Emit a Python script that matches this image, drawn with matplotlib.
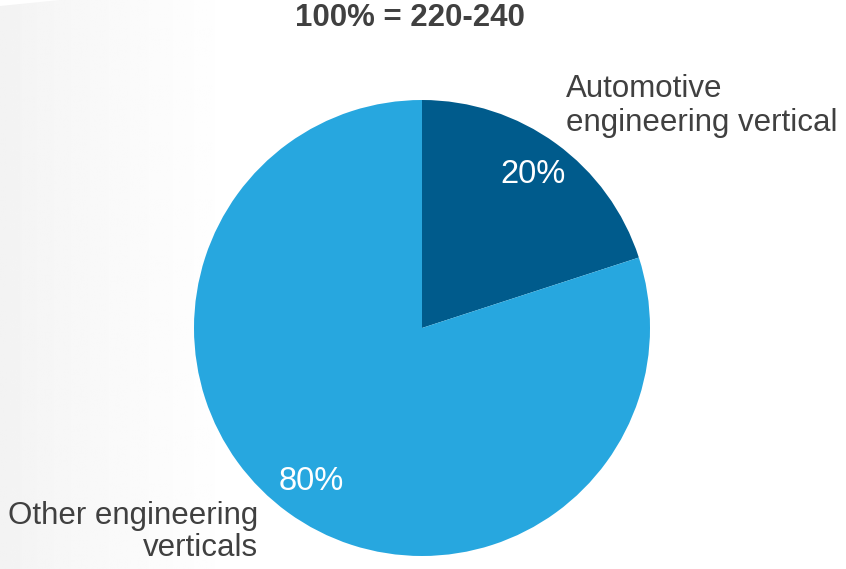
import matplotlib
matplotlib.use("Agg")
import matplotlib.pyplot as plt
import numpy as np

plt.rcParams['font.family'] = ['Liberation Sans', 'DejaVu Sans']

# data
segments = ["Automotive\nengineering vertical", "Other engineering\nverticals"]
shares = [20, 80]
total_label = "100% = 220-240"
colors = ["#005B8C", "#27A7DF"]
text_grey = "#404040"

W, H = 846, 569
fig = plt.figure(figsize=(W / 100, H / 100), dpi=100)

# soft grey shading on the left edge
bg = fig.add_axes([0, 0, 1, 1], zorder=0)
grad = np.linspace(0, 1, 400)
shade = np.clip(grad / 0.28, 0, 1) ** 0.8
img = 0.95 + 0.05 * shade
bg.imshow(np.tile(img, (10, 1)), cmap="gray", vmin=0, vmax=1, aspect="auto",
          extent=[0, 1, 0, 1])
# white corner at the top left
bg.fill([0, 0, 60 / W], [1, 1 - 6 / H, 1], color="white", lw=0)
bg.set_xlim(0, 1)
bg.set_ylim(0, 1)
bg.axis("off")

# pie axes: centre (422, 328) px, radius 228 px
cx, cy, r = 422, 328, 228
ax = fig.add_axes([(cx - r) / W, 1 - (cy + r) / H, 2 * r / W, 2 * r / H], zorder=1)
wedges, _, autotexts = ax.pie(shares, colors=colors, startangle=90, counterclock=False,
                              autopct="%d%%", pctdistance=0.83, radius=1,
                              textprops=dict(color="white", fontsize=23.5))
ax.set_xlim(-1, 1)
ax.set_ylim(-1, 1)
ax.set_aspect("equal")
ax.axis("off")

fig.text(410 / W, 1 - 18 / H, total_label, ha="center", va="center",
         fontsize=22.5, fontweight="bold", color=text_grey)
fig.text(566 / W, 1 - 74 / H, segments[0], ha="left", va="top",
         fontsize=22.5, color=text_grey, linespacing=1.18)
fig.text(258 / W, 1 - 563 / H, segments[1], ha="right", va="bottom",
         fontsize=22.5, color=text_grey, linespacing=1.08)

fig.savefig("out.png", dpi=100)
